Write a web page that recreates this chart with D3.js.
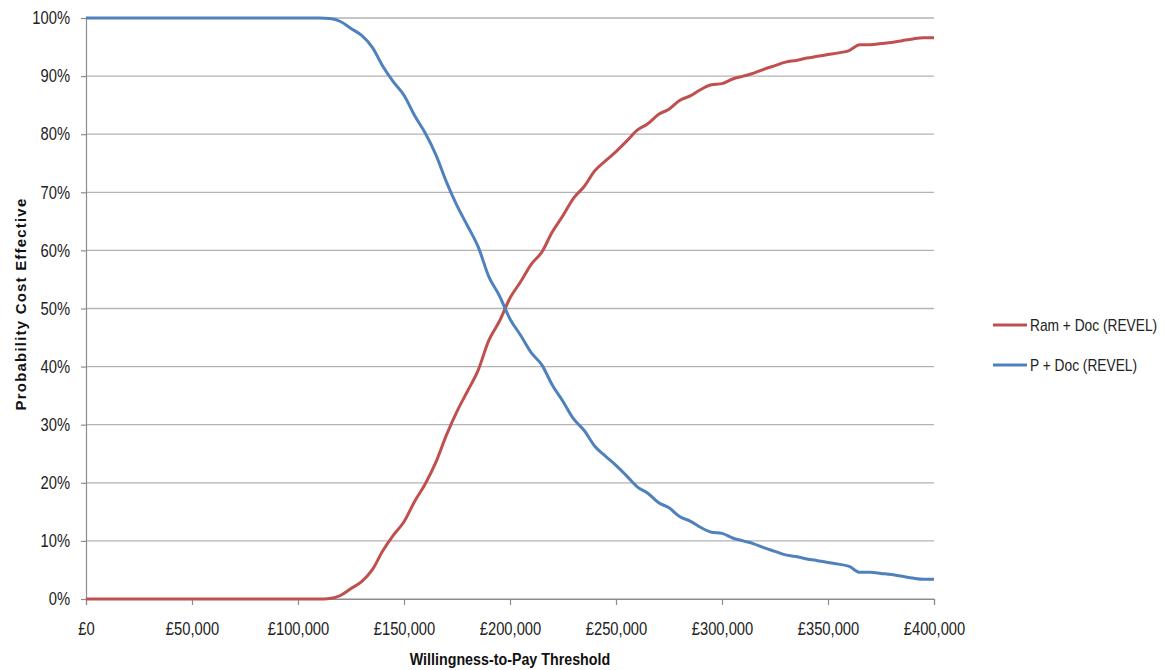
<!DOCTYPE html>
<html>
<head>
<meta charset="utf-8">
<script src="https://cdn.jsdelivr.net/npm/d3@7"></script>
<style>
  body { margin: 0; background: #fff; }
  svg { display: block; }
</style>
</head>
<body>
<svg id="chart" width="1164" height="670"></svg>
<script>
// Cost-effectiveness acceptability curve

const thresholds = d3.range(0, 400001, 5000);

// Probability (%) that Ram + Doc is cost effective, per £5,000 step
const ramDoc = [
    0, 0, 0, 0, 0, 0, 0, 0, 0, 0,
    0, 0, 0, 0, 0, 0, 0, 0, 0, 0,
    0, 0, 0, 0.1, 0.6, 1.8, 3.0, 5.0, 8.3, 11.0,
    13.3, 16.8, 19.8, 23.5, 28.2, 32.3, 35.8, 39.4, 44.5, 47.8,
    51.8, 54.6, 57.6, 59.7, 63.2, 66.0, 69.0, 71.0, 73.7, 75.4,
    77.0, 78.8, 80.7, 81.8, 83.4, 84.3, 85.8, 86.6, 87.7, 88.5,
    88.7, 89.5, 90.0, 90.5, 91.2, 91.8, 92.4, 92.7, 93.1, 93.4,
    93.7, 94.0, 94.4, 95.4, 95.4, 95.6, 95.8, 96.1, 96.4, 96.6,
    96.6
];

// Probability (%) that P + Doc is cost effective
const pDoc = [
    100, 100, 100, 100, 100, 100, 100, 100, 100, 100,
    100, 100, 100, 100, 100, 100, 100, 100, 100, 100,
    100, 100, 100, 99.9, 99.4, 98.2, 97.0, 95.0, 91.7, 89.0,
    86.7, 83.2, 80.2, 76.5, 71.8, 67.7, 64.2, 60.6, 55.5, 52.2,
    48.2, 45.4, 42.4, 40.3, 36.8, 34.0, 31.0, 29.0, 26.3, 24.6,
    23.0, 21.2, 19.3, 18.2, 16.6, 15.7, 14.2, 13.4, 12.3, 11.5,
    11.3, 10.5, 10.0, 9.5, 8.8, 8.2, 7.6, 7.3, 6.9, 6.6,
    6.3, 6.0, 5.6, 4.6, 4.6, 4.4, 4.2, 3.9, 3.6, 3.4,
    3.4
];

const seriesNames = ['Ram + Doc (REVEL)', 'P + Doc (REVEL)'];
const seriesColors = ['#C0504D', '#4F81BD'];
const xTicks = d3.range(0, 400001, 50000);
const yTicks = d3.range(0, 101, 10);

const svg = d3.select('#chart');
const font = '"Liberation Sans", Arial, sans-serif';
const squeeze = 0.82; // narrow the Arial metrics towards the original condensed face

const margin = { left: 86, right: 934, top: 18, bottom: 599 };

const x = d3.scaleLinear().domain([0, 400000]).range([margin.left, margin.right]);
const y = d3.scaleLinear().domain([0, 100]).range([margin.bottom, margin.top]);

// Gridlines
svg.append('g')
    .selectAll('line')
    .data(yTicks)
    .enter()
    .append('line')
    .attr('x1', margin.left)
    .attr('x2', margin.right)
    .attr('y1', d => y(d))
    .attr('y2', d => y(d))
    .style('stroke', '#b3b3b3')
    .style('stroke-width', 1.3);

// Y axis
const yAxis = svg.append('g')
    .attr('transform', `translate(${margin.left},0)`)
    .call(d3.axisLeft(y).tickValues(yTicks).tickSize(5).tickPadding(11).tickFormat(d => d + '%'));

// X axis
const xAxis = svg.append('g')
    .attr('transform', `translate(0,${margin.bottom})`)
    .call(d3.axisBottom(x).tickValues(xTicks).tickSize(6).tickPadding(17)
        .tickFormat(d => '£' + d3.format(',')(d)));

[yAxis, xAxis].forEach(ax => {
    ax.select('.domain').style('stroke', '#8c8c8c').style('stroke-width', 1.2);
    ax.selectAll('.tick line').style('stroke', '#8c8c8c').style('stroke-width', 1.2);
    ax.selectAll('.tick text')
        .style('font-family', font)
        .style('font-size', '18px')
        .style('fill', '#222')
        .attr('transform', `scale(${squeeze},1)`);
});
// horizontal offset of y labels has to be undone for the squeeze
yAxis.selectAll('.tick text').attr('x', -16 / squeeze);

// Lines
const line = d3.line()
    .x((d, i) => x(thresholds[i]))
    .y(d => y(d))
    .curve(d3.curveMonotoneX);

[ramDoc, pDoc].forEach((values, i) => {
    svg.append('path')
        .datum(values)
        .attr('d', line)
        .style('fill', 'none')
        .style('stroke', seriesColors[i])
        .style('stroke-width', 3)
        .style('stroke-linejoin', 'round');
});

// Axis titles
svg.append('text')
    .attr('transform', 'translate(510, 665) scale(0.84,1)')
    .attr('text-anchor', 'middle')
    .style('font-family', font)
    .style('font-weight', 'bold')
    .style('font-size', '17px')
    .style('fill', '#111')
    .text('Willingness-to-Pay Threshold');

svg.append('text')
    .attr('transform', 'translate(26, 304) rotate(-90)')
    .attr('text-anchor', 'middle')
    .style('font-family', font)
    .style('font-weight', 'bold')
    .style('font-size', '15px')
    .style('letter-spacing', '1.2px')
    .style('fill', '#111')
    .text('Probability Cost Effective');

// Legend
const legend = svg.append('g')
    .attr('transform', 'translate(993, 325)');

const legendItems = legend.selectAll('g')
    .data(seriesNames)
    .enter()
    .append('g')
    .attr('transform', (d, i) => `translate(0, ${i * 40})`);

legendItems.append('line')
    .attr('x1', 0)
    .attr('x2', 34)
    .style('stroke', (d, i) => seriesColors[i])
    .style('stroke-width', 3);

legendItems.append('text')
    .attr('transform', 'translate(37, 6) scale(0.86,1)')
    .style('font-family', font)
    .style('font-size', '16px')
    .style('fill', '#222')
    .text(d => d);
</script>
</body>
</html>
